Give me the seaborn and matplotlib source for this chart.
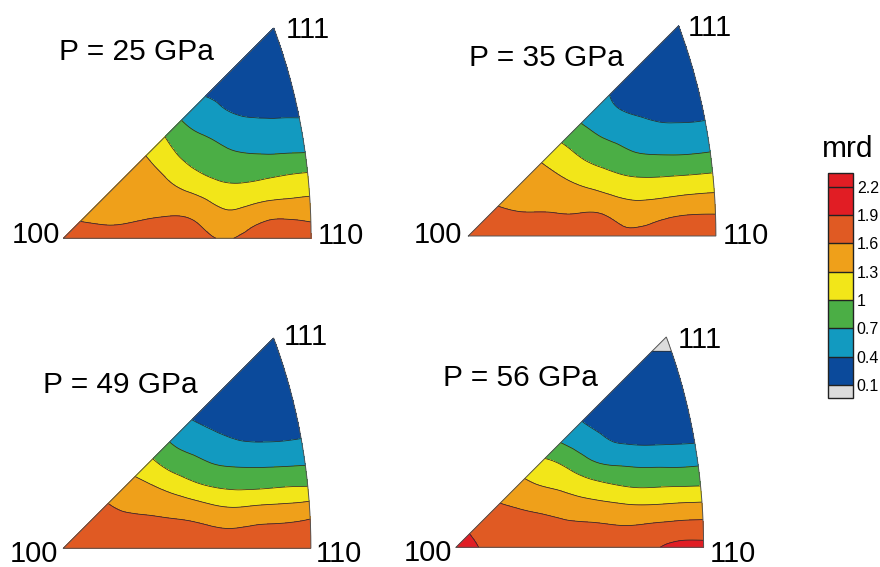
import numpy as np
import matplotlib
matplotlib.use("Agg")
import matplotlib.pyplot as plt
from matplotlib.colors import ListedColormap, BoundaryNorm
from matplotlib.tri import Triangulation, UniformTriRefiner, CubicTriInterpolator
import seaborn as sns

# ---------------------------------------------------------------- data
pressures = [25, 35, 49, 56]
levels = [0.1, 0.4, 0.7, 1.0, 1.3, 1.6, 1.9, 2.2]
tick_labels = ["0.1", "0.4", "0.7", "1", "1.3", "1.6", "1.9", "2.2"]
band_colors = ["#0b4a9b", "#129ac0", "#4bae45", "#f2e619",
               "#efa01a", "#e05a23", "#e11d24"]
under_color = "#dcdcdc"
over_color = "#e11d24"

# mrd on the standard triangle. Rows climb from the 100-110 edge in steps of
# 0.1 of the 111 height; columns run in eighths from the 100-111 edge to the
# 110-111 arc. The apex value belongs to the 111 corner.
mrd_25 = [
    [1.75, 1.72, 1.73, 1.75, 1.75, 1.59, 1.68, 1.72, 1.72],
    [1.57, 1.55, 1.58, 1.61, 1.55, 1.38, 1.50, 1.58, 1.55],
    [1.50, 1.48, 1.46, 1.38, 1.25, 1.14, 1.20, 1.26, 1.30],
    [1.40, 1.38, 1.23, 1.06, 0.95, 0.92, 0.95, 1.00, 1.04],
    [1.28, 1.10, 0.92, 0.83, 0.75, 0.71, 0.70, 0.71, 0.72],
    [0.93, 0.77, 0.69, 0.62, 0.55, 0.53, 0.52, 0.53, 0.53],
    [0.58, 0.52, 0.455, 0.40, 0.37, 0.36, 0.355, 0.355, 0.355],
    [0.36, 0.34, 0.30, 0.29, 0.28, 0.28, 0.28, 0.28, 0.28],
    [0.24, 0.23, 0.22, 0.22, 0.22, 0.22, 0.22, 0.22, 0.22],
    [0.18, 0.17, 0.17, 0.17, 0.17, 0.17, 0.17, 0.17, 0.17],
]
apex_25 = 0.14

mrd_35 = [
    [1.80, 1.78, 1.75, 1.75, 1.76, 1.68, 1.74, 1.76, 1.77],
    [1.65, 1.62, 1.62, 1.61, 1.61, 1.47, 1.53, 1.60, 1.61],
    [1.54, 1.49, 1.45, 1.38, 1.28, 1.22, 1.24, 1.29, 1.32],
    [1.40, 1.31, 1.18, 1.07, 0.98, 0.94, 0.95, 0.97, 1.00],
    [1.15, 1.01, 0.88, 0.80, 0.71, 0.67, 0.66, 0.67, 0.70],
    [0.81, 0.71, 0.62, 0.56, 0.50, 0.465, 0.455, 0.46, 0.48],
    [0.525, 0.457, 0.397, 0.364, 0.345, 0.33, 0.33, 0.33, 0.335],
    [0.35, 0.29, 0.27, 0.26, 0.26, 0.26, 0.26, 0.26, 0.26],
    [0.23, 0.22, 0.21, 0.21, 0.21, 0.21, 0.21, 0.21, 0.21],
    [0.18, 0.18, 0.18, 0.18, 0.18, 0.18, 0.18, 0.18, 0.18],
]
apex_35 = 0.15

mrd_49 = [
    [1.82, 1.80, 1.78, 1.77, 1.76, 1.70, 1.72, 1.74, 1.75],
    [1.72, 1.68, 1.67, 1.66, 1.64, 1.59, 1.62, 1.64, 1.68],
    [1.62, 1.56, 1.52, 1.45, 1.35, 1.28, 1.32, 1.35, 1.40],
    [1.41, 1.32, 1.18, 1.05, 0.96, 0.93, 0.94, 0.97, 0.98],
    [1.10, 0.94, 0.83, 0.73, 0.675, 0.66, 0.66, 0.67, 0.685],
    [0.72, 0.61, 0.55, 0.48, 0.43, 0.41, 0.41, 0.42, 0.44],
    [0.42, 0.38, 0.34, 0.32, 0.31, 0.31, 0.31, 0.31, 0.315],
    [0.28, 0.25, 0.24, 0.24, 0.24, 0.24, 0.24, 0.24, 0.24],
    [0.20, 0.20, 0.20, 0.20, 0.20, 0.20, 0.20, 0.20, 0.20],
    [0.17, 0.17, 0.17, 0.17, 0.17, 0.17, 0.17, 0.17, 0.17],
]
apex_49 = 0.15

mrd_56 = [
    [2.00, 1.87, 1.80, 1.78, 1.76, 1.74, 1.78, 1.97, 2.00],
    [1.84, 1.75, 1.70, 1.66, 1.64, 1.61, 1.63, 1.68, 1.70],
    [1.62, 1.56, 1.50, 1.42, 1.37, 1.32, 1.31, 1.34, 1.36],
    [1.39, 1.28, 1.21, 1.10, 1.01, 0.95, 0.95, 0.96, 0.97],
    [1.07, 0.99, 0.83, 0.70, 0.66, 0.64, 0.64, 0.64, 0.66],
    [0.69, 0.59, 0.50, 0.41, 0.38, 0.37, 0.375, 0.38, 0.39],
    [0.398, 0.35, 0.31, 0.29, 0.28, 0.28, 0.28, 0.28, 0.29],
    [0.30, 0.26, 0.24, 0.23, 0.23, 0.23, 0.23, 0.23, 0.24],
    [0.19, 0.19, 0.19, 0.19, 0.19, 0.19, 0.19, 0.19, 0.19],
    [0.13, 0.13, 0.13, 0.13, 0.13, 0.13, 0.13, 0.13, 0.13],
]
apex_56 = 0.02

panels = [(mrd_25, apex_25), (mrd_35, apex_35), (mrd_49, apex_49), (mrd_56, apex_56)]

# ---------------------------------------------------------------- style
sns.set_style("white")
plt.rcParams["font.family"] = ["Liberation Sans", "DejaVu Sans"]
plt.rcParams["text.color"] = "black"
plt.rcParams["ytick.color"] = "black"

W, H = 880, 567
fig = plt.figure(figsize=(W / 100, H / 100), dpi=100)
fig.patch.set_facecolor("white")

cmap = ListedColormap(sns.color_palette(band_colors))
cmap.set_under(under_color)
cmap.set_over(over_color)
norm = BoundaryNorm(levels, cmap.N)


# ---------------------------------------------------------------- geometry
def equal_area(v):
    """Lambert equal-area projection of unit directions (upper hemisphere)."""
    v = v / np.linalg.norm(v, axis=-1, keepdims=True)
    r = np.sqrt(2.0 * (1.0 - v[..., 2]))
    phi = np.arctan2(v[..., 1], v[..., 0])
    return r * np.cos(phi), r * np.sin(phi)


t = np.linspace(0.0, 1.0, 400)
arc_x, arc_y = equal_area(np.stack([np.ones_like(t), t, np.ones_like(t)], axis=-1))
x110 = arc_x[0]
y111 = arc_y[-1]
x111 = arc_x[-1]


def triangle_nodes(nrows, ncols):
    """Node positions of the sampling grid, apex (111) last."""
    xs, ys = [], []
    for i in range(nrows):
        yy = (i / 10.0) * y111
        xl = yy
        xr = np.interp(yy, arc_y, arc_x)
        for j in range(ncols):
            w = j / (ncols - 1)
            xs.append(xl + w * (xr - xl))
            ys.append(yy)
    xs.append(x111)
    ys.append(y111)
    return np.array(xs), np.array(ys)


# pixel position of the 100 corner of each panel and pixel scale
origins = [(63.5, 238.3), (468.3, 236.0), (63.3, 548.3), (456.0, 547.3)]
scale = 323.5
xlim = (-0.06, 0.80)
ylim = (-0.03, 0.68)

# label anchors (pixels): 111, 100, 110 and the pressure title (x centre, baseline)
label_pos = [
    {"111": (307.5, 38), "100": (35.5, 243), "110": (341, 244), "P": (136, 60)},
    {"111": (710, 36.5), "100": (437.5, 243), "110": (746, 244.5), "P": (546, 66)},
    {"111": (305.5, 345), "100": (34, 562), "110": (339, 562), "P": (120, 393)},
    {"111": (700, 348), "100": (428, 561), "110": (733, 562), "P": (520, 386.5)},
]

cs = None
for k, ((values, apex), (ox, oy)) in enumerate(zip(panels, origins)):
    left = ox + xlim[0] * scale
    right = ox + xlim[1] * scale
    top = oy - ylim[1] * scale
    bottom = oy - ylim[0] * scale
    ax = fig.add_axes([left / W, 1 - bottom / H, (right - left) / W, (bottom - top) / H])
    ax.set_xlim(*xlim)
    ax.set_ylim(*ylim)
    ax.axis("off")

    arr = np.asarray(values, dtype=float)
    nrows, ncols = arr.shape
    xs, ys = triangle_nodes(nrows, ncols)
    z = np.append(arr.ravel(), apex)
    tri = Triangulation(xs, ys)  # Delaunay on the convex spherical triangle

    # smooth the coarse grid with matplotlib's cubic triangle interpolator
    interp = CubicTriInterpolator(tri, z, kind="min_E")
    fine_tri, fine_z = UniformTriRefiner(tri).refine_field(z, triinterpolator=interp, subdiv=3)

    cs = ax.tricontourf(fine_tri, fine_z, levels=levels, cmap=cmap, norm=norm, extend="both")
    ax.tricontour(fine_tri, fine_z, levels=levels, colors="#2a2a2a", linewidths=0.55)

    ox_line = np.concatenate([[0.0], arc_x, [0.0]])
    oy_line = np.concatenate([[0.0], arc_y, [0.0]])
    ax.plot(ox_line, oy_line, color="#555555", lw=0.7, solid_joinstyle="miter")

    lp = label_pos[k]
    for key in ("111", "100", "110"):
        px, py = lp[key]
        fig.text(px / W, 1 - py / H, key, ha="center", va="baseline", fontsize=21)
    px, py = lp["P"]
    fig.text(px / W, 1 - py / H, f"P = {pressures[k]} GPa", ha="center",
             va="baseline", fontsize=21.5)

# ---------------------------------------------------------------- colour bar
cb_left, cb_right = 827.7, 852.7
cb_top, cb_bottom = 173.3, 398.3
cax = fig.add_axes([cb_left / W, 1 - cb_bottom / H, (cb_right - cb_left) / W,
                    (cb_bottom - cb_top) / H])
cbar = fig.colorbar(cs, cax=cax, extend="both", extendrect=True,
                    extendfrac=0.067, drawedges=True, ticks=levels)
cbar.ax.set_yticklabels(tick_labels)
cbar.ax.tick_params(length=0, pad=3, labelsize=11.5)
cbar.outline.set_edgecolor("#222222")
cbar.outline.set_linewidth(1.0)
cbar.dividers.set_color("#222222")
cbar.dividers.set_linewidth(1.0)
fig.text(847.8 / W, 1 - 156.7 / H, "mrd", ha="center", va="baseline", fontsize=21.5)

fig.savefig("out.png", dpi=100, facecolor="white")
